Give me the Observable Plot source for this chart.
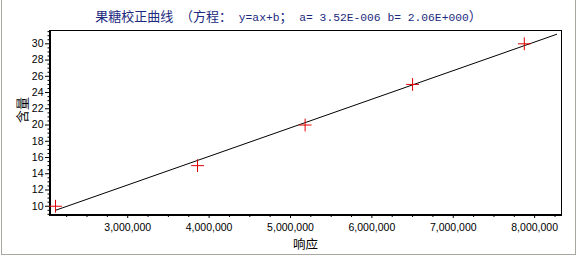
<!DOCTYPE html>
<html>
<head>
<meta charset="utf-8">
<script src="https://cdn.jsdelivr.net/npm/d3@7"></script>
<script src="https://cdn.jsdelivr.net/npm/@observablehq/plot@0.6"></script>
<style>
  html, body { margin: 0; padding: 0; background: #fff; }
  #wrap { position: relative; width: 577px; height: 257px; overflow: hidden; }
  #title { position: absolute; left: 0; top: 8px; width: 577px; text-align: center; color: #1c2a80; white-space: pre; line-height: 16px; }
  #title .c { font-family: "Noto Sans CJK SC", sans-serif; font-size: 13px; }
  #title .m { font-family: "Liberation Mono", monospace; font-size: 11.3px; }
  #border { position: absolute; left: 1px; top: -2px; width: 573px; height: 255px; border: 1px solid #a8a8a0; pointer-events: none; }
  svg { display: block; }
</style>
</head>
<body>
<div id="wrap">
  <div id="chart"></div>
  <div id="title"><span class="c">果糖校正曲线</span><span class="m"> </span><span class="c">（方程：</span><span class="m"> y=ax+b</span><span class="c">；</span><span class="m"> a= 3.52E-006 b= 2.06E+000</span><span class="c">）</span></div>
  <div id="border"></div>
</div>
<script>
// Data
const response = [2113000, 3858000, 5180000, 6500000, 7873000];
const content = [10, 15, 20, 25, 30];
// Fitted line end points (y = ax + b, a = 3.52E-006, b = 2.06)
const fitX = [2113000, 8270000];
const fitY = [9.50, 31.17];
// Axis ticks
const xTicks = [3000000, 4000000, 5000000, 6000000, 7000000, 8000000];
const xMinorTicks = [2250000, 2500000, 2750000, 3250000, 3500000, 3750000, 4250000, 4500000, 4750000, 5250000, 5500000, 5750000, 6250000, 6500000, 6750000, 7250000, 7500000, 7750000, 8250000];
const yTicks = [10, 12, 14, 16, 18, 20, 22, 24, 26, 28, 30];
const yMinorTicks = [9, 9.5, 10.5, 11, 11.5, 12.5, 13, 13.5, 14.5, 15, 15.5, 16.5, 17, 17.5, 18.5, 19, 19.5, 20.5, 21, 21.5, 22.5, 23, 23.5, 24.5, 25, 25.5, 26.5, 27, 27.5, 28.5, 29, 29.5, 30.5, 31, 31.5];
const xLabel = "响应";
const yLabel = "含量";
const xDomain = [2039000, 8330000];
const yDomain = [8.86, 31.64];

const points = response.map((x, i) => ({x, y: content[i]}));
const fit = fitX.map((x, i) => ({x, y: fitY[i]}));

const chart = Plot.plot({
  width: 577,
  height: 257,
  marginLeft: 49,
  marginRight: 16,
  marginTop: 30,
  marginBottom: 42,
  style: { fontFamily: "Liberation Sans, Arial, sans-serif", fontSize: "10.5px", color: "#000", background: "transparent" },
  x: { domain: xDomain },
  y: { domain: yDomain },
  marks: [
    Plot.frame({ stroke: "#000", strokeWidth: 1 }),
    Plot.ruleX([xDomain[0]], { stroke: "#000", strokeWidth: 2, dx: 0.5 }),
    Plot.ruleY([yDomain[0]], { stroke: "#000", strokeWidth: 2, dy: -0.5 }),
    Plot.axisX({ ticks: xTicks, tickSize: 3, tickFormat: d3.format(","), tickPadding: 5, label: null, stroke: "#000" }),
    Plot.axisX({ ticks: xMinorTicks, tickSize: 2, tickFormat: () => "", label: null }),
    Plot.axisY({ ticks: yTicks, tickSize: 4, tickPadding: 2, label: null }),
    Plot.axisY({ ticks: yMinorTicks, tickSize: 1.5, tickFormat: () => "", label: null }),
    Plot.line(fit, { x: "x", y: "y", stroke: "#000", strokeWidth: 1 }),
    Plot.dot(points, { x: "x", y: "y", symbol: "plus", r: 4.2, stroke: "#e00000", strokeWidth: 1 }),
    Plot.text([xLabel], { frameAnchor: "bottom", dy: 33, text: d => d, fontSize: 12.5, fontFamily: "Noto Sans CJK SC" }),
    Plot.text([yLabel], { frameAnchor: "left", dx: -27, rotate: -90, text: d => d, fontSize: 13, fontFamily: "Noto Sans CJK SC" })
  ]
});
document.getElementById("chart").appendChild(chart);
</script>
</body>
</html>
